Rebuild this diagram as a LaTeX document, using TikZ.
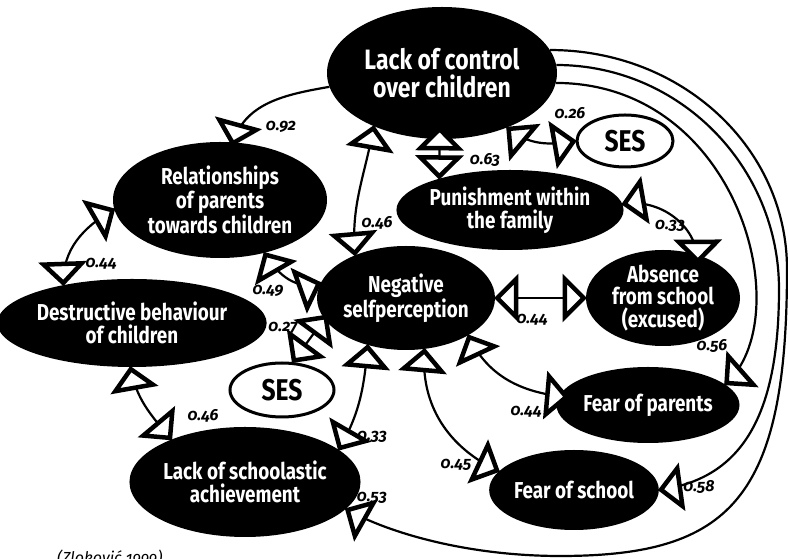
\documentclass[tikz,border=0pt]{standalone}
\usepackage{fontspec}
\usetikzlibrary{shapes.geometric,decorations.markings,calc}
\newfontfamily\nodefont[FakeStretch=0.82]{Fira Sans}
\newfontfamily\labfont[Numbers=OldStyle]{Fira Sans}
\begin{document}
\begin{tikzpicture}[x=1pt,y=1pt,
  blob/.style={ellipse, fill=black, text=white, inner sep=0pt, align=center,
    font=\nodefont\bfseries\fontsize{23}{22.5}\selectfont},
  bigblob/.style={blob, font=\nodefont\bfseries\fontsize{28}{28}\selectfont},
  sesbox/.style={ellipse, draw=black, line width=3pt, fill=white, inner sep=0pt,
    font=\nodefont\bfseries\fontsize{30}{30}\selectfont},
  conn/.style={line width=2.2pt, draw=black},
  lbl/.style={font=\labfont\bfseries\itshape\fontsize{16}{16}\selectfont, inner sep=0pt},
  trishape/.style={draw=black, fill=white, line width=4.5pt, line join=miter, miter limit=4},
  endtip/.style={postaction={decorate, decoration={markings,
     mark=at position -0.3pt with {\draw[trishape] (-1.7,0) -- (-20.7,19) -- (-20.7,-19) -- cycle;}}}},
  starttip/.style={postaction={decorate, decoration={markings,
     mark=at position 0 with {\draw[trishape] (2,0) -- (21,19) -- (21,-19) -- cycle;}}}},
  one/.style={conn, endtip},
  two/.style={conn, starttip, endtip}]
\useasboundingbox (0,0) rectangle (788,559);
% nodes
\node[bigblob, minimum width=230, minimum height=132] (lack) at (442,486) {Lack of control\\over children};
\node[blob, minimum width=214, minimum height=116] (rel) at (220,359) {Relationships\\of parents\\towards children};
\node[blob, minimum width=242, minimum height=88] (dest) at (132,236) {Destructive behaviour\\of children};
\node[blob, minimum width=178, minimum height=104] (neg) at (406,261) {Negative\\selfperception};
\node[blob, minimum width=220, minimum height=80] (pun) at (510,349) {Punishment within\\the family};
\node[sesbox, minimum width=96, minimum height=52] (ses1) at (625,418) {SES};
\node[blob, minimum width=154, minimum height=96] (abs) at (663,261) {Absence\\from school\\(excused)};
\node[blob, minimum width=168, minimum height=76] (fpar) at (648,154) {Fear of parents};
\node[blob, minimum width=164, minimum height=80] (fsch) at (574,69) {Fear of school};
\node[blob, minimum width=204, minimum height=110] (losa) at (245,77) {Lack of schoolastic\\achievement};
\node[sesbox, minimum width=104, minimum height=54] (ses2) at (282,169) {SES};
% connectors
\draw[one] (lack.187) to[out=190,in=75] ($(rel.78)+(0,-3)$);
\draw[two] (dest.151) to[out=92,in=210] (rel.185);
\draw[two] (lack.218) to[out=260,in=95] (neg.140);
\draw[two] ($(lack.268)+(0,12)$) -- (pun.156);
\draw[two] (lack.320) to[out=-40,in=190] (ses1.180);
\draw[two] (pun.3) to[out=10,in=90] ($(abs.55)+(4,-9)$);
\draw[two] (neg.0) -- (abs.180);
\draw[two] (neg.329) to[out=-65,in=175] ($(fpar.175)+(10,0)$);
\draw[two] (neg.290) to[out=265,in=155] (fsch.166);
\draw[two] (rel.310) to[out=-60,in=200] (neg.170);
\draw[two] (ses2.69) -- ($(neg.194)+(3,3)$);
\draw[two] (neg.231) to[out=265,in=60] (losa.19);
\draw[two] (dest.268) to[out=280,in=130] (losa.150);
\draw[one] (lack.355) .. controls (740,476) and (800,240) .. (fpar.15);
\draw[one] (lack.4) .. controls (680,494) and (779,392) .. (779,270)
   .. controls (779,140) and (740,80) .. (fsch.0);
\draw[one] (lack.12) .. controls (682,509) and (787,411) .. (787,290)
   .. controls (787,60) and (730,3) .. (560,3) .. controls (470,3) and (390,25) .. (losa.345);
% labels
\node[lbl] (l1) at (281,432) {0.92};
\node[lbl] (l2) at (101,295) {0.44};
\node[lbl] (l3) at (377,336) {0.46};
\node[lbl] (l4) at (485,399) {0.63};
\node[lbl] (l5) at (570,446) {0.26};
\node[lbl] (l6) at (670,333) {0.33};
\node[lbl] (l7) at (532,239) {0.44};
\node[lbl] (l8) at (526,147) {0.44};
\node[lbl] (l9) at (456,94) {0.45};
\node[lbl] (l10) at (268,268) {0.49};
\node[lbl] (l11) at (283,231) {0.27};
\node[lbl] (l12) at (372,122) {0.33};
\node[lbl] (l13) at (203,143) {0.46};
\node[lbl] (l14) at (712,213) {0.56};
\node[lbl] (l15) at (699,72) {0.58};
\node[lbl] (l16) at (372,61) {0.53};
\node[lbl, font=\labfont\itshape\fontsize{16}{16}\selectfont, anchor=north west] (cite) at (57,9) {(Zloković 1999)};
\end{tikzpicture}
\end{document}
